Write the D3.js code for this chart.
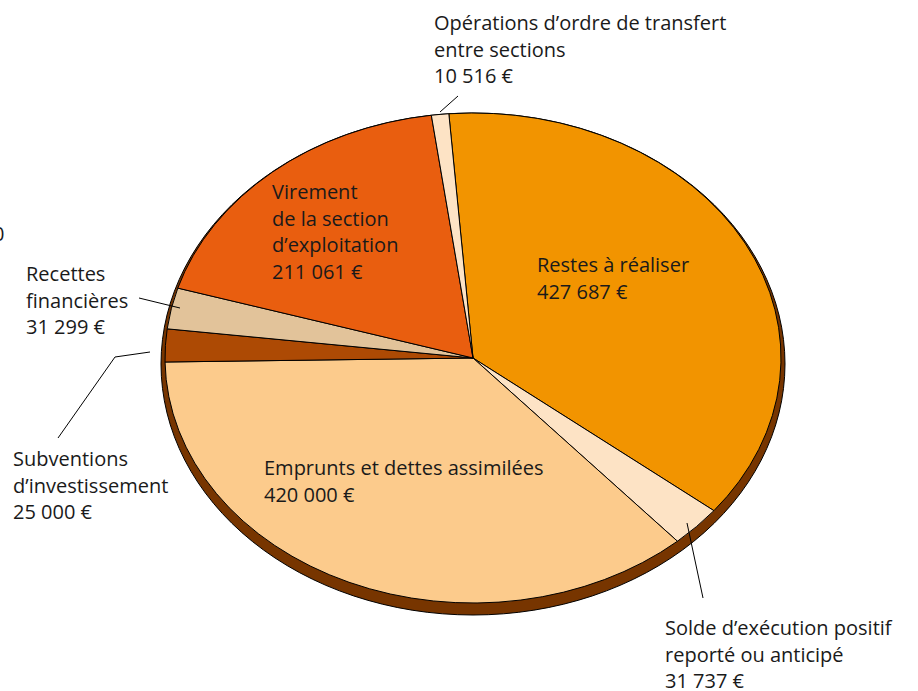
<!DOCTYPE html>
<html>
<head>
<meta charset="utf-8">
<script src="https://cdn.jsdelivr.net/npm/d3@7"></script>
<style>
	html, body { margin: 0; padding: 0; background: #fff; }
	svg { display: block; }
	text { font-family: "Open Sans", "Noto Sans", sans-serif; font-size: 20px; fill: #1a1a1a; }
</style>
</head>
<body>
<svg id="chart"></svg>
<script>
// ------- DATA ------- //
// clockwise from the top, as in the original
const categories = [
	'Restes à réaliser',
	'Solde d’exécution positif reporté ou anticipé',
	'Emprunts et dettes assimilées',
	'Subventions d’investissement',
	'Recettes financières',
	'Virement de la section d’exploitation',
	'Opérations d’ordre de transfert entre sections'
]
const values = [427687, 31737, 420000, 25000, 31299, 211061, 10516]
const labelLines = [
	['Restes à réaliser'],
	['Solde d’exécution positif', 'reporté ou anticipé'],
	['Emprunts et dettes assimilées'],
	['Subventions', 'd’investissement'],
	['Recettes', 'financières'],
	['Virement', 'de la section', 'd’exploitation'],
	['Opérations d’ordre de transfert', 'entre sections']
]
const colors = ['#f29400', '#fde3c5', '#fccb8c', '#ad4a04', '#e2c39a', '#e95e0f', '#fde3c5']

// ------- LAYOUT ------- //
const width = 918
const height = 691
const cx = 473
const cy = 358
const rx = 308
const ry = 245
const depth = { dx: 0, dy: 6, grow: 4 }
const lineHeight = 26.5

// label anchor (left x, first baseline) and optional leader polyline
const labelLayout = [
	{ x: 537, y: 272 },
	{ x: 665, y: 635, leader: [[687, 523], [703, 598]] },
	{ x: 264, y: 475 },
	{ x: 13, y: 466, leader: [[150, 352], [115, 357], [58, 438]] },
	{ x: 26, y: 281, leader: [[139, 298], [180, 308]] },
	{ x: 272, y: 199 },
	{ x: 434, y: 30, leader: [[440, 112], [458, 96]] }
]

const fr = d3.formatLocale({ decimal: ',', thousands: '\u00a0', grouping: [3], currency: ['', '\u00a0€'] })
const fmt = fr.format('$,.0f')

const svg = d3.select('#chart')
	.attr('width', width)
	.attr('height', height)

// stray glyph cut by the left border of the original
svg.append('text').attr('x', -7).attr('y', 241).text('0')

// thickness of the "3D" disc
svg.append('ellipse')
	.attr('cx', cx + depth.dx)
	.attr('cy', cy + depth.dy)
	.attr('rx', rx + depth.grow)
	.attr('ry', ry + depth.dy)
	.attr('fill', '#773500')
	.attr('stroke', '#000')
	.attr('stroke-width', 1)

const pie = d3.pie()
	.sort(null)
	.startAngle(-4.5 * Math.PI / 180)
	.endAngle(-4.5 * Math.PI / 180 + 2 * Math.PI)

const arc = d3.arc().innerRadius(0).outerRadius(ry)

const arcs = pie(values)

const face = svg.append('g')
	.attr('transform', `translate(${cx},${cy}) scale(${rx / ry},1)`)

face.selectAll('path')
	.data(arcs)
	.enter().append('path')
		.attr('d', arc)
		.attr('fill', (d, i) => colors[i])
		.attr('stroke', '#000')
		.attr('stroke-width', 1)
		.attr('stroke-linejoin', 'round')
		.attr('vector-effect', 'non-scaling-stroke')

// leaders
const leader = d3.line()
svg.selectAll('path.leader')
	.data(labelLayout.filter(l => l.leader))
	.enter().append('path')
		.attr('class', 'leader')
		.attr('d', l => leader(l.leader))
		.attr('fill', 'none')
		.attr('stroke', '#000')
		.attr('stroke-width', 1)

// labels
const labels = svg.selectAll('text.label')
	.data(arcs)
	.enter().append('text')
		.attr('class', 'label')
		.attr('x', (d, i) => labelLayout[i].x)
		.attr('y', (d, i) => labelLayout[i].y)

labels.each(function (d, i) {
	const t = d3.select(this)
	const lines = labelLines[i].concat([fmt(values[i])])
	lines.forEach((s, k) => {
		t.append('tspan')
			.attr('x', labelLayout[i].x)
			.attr('dy', k === 0 ? 0 : lineHeight)
			.text(s)
	})
})
</script>
</body>
</html>
